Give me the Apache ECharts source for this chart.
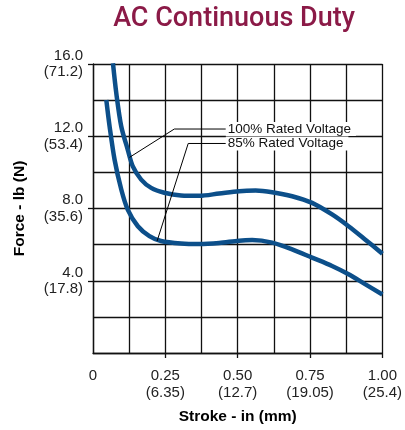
<!DOCTYPE html>
<html>
<head>
<meta charset="utf-8">
<script src="https://cdn.jsdelivr.net/npm/echarts@6/dist/echarts.min.js"></script>
<style>html,body{margin:0;padding:0;background:#fff}#c{width:405px;height:430px}</style>
</head>
<body>
<div id="c"></div>
<script>
// Stroke (in) vs Force (lb)
const rated100 = [[0.069,16.04],[0.0805,14.38],[0.0977,12.54],[0.120,11.26],[0.1376,10.33],[0.1665,9.60],[0.201,9.14],[0.2466,8.87],[0.304,8.72],[0.367,8.70],[0.436,8.83],[0.505,8.96],[0.562,8.99],[0.619,8.90],[0.688,8.68],[0.757,8.31],[0.826,7.67],[0.883,7.02],[0.940,6.29],[1.0,5.5]];
const rated85 = [[0.046,14.01],[0.0574,12.54],[0.0746,10.70],[0.0977,9.05],[0.120,7.94],[0.155,7.02],[0.195,6.47],[0.235,6.20],[0.304,6.06],[0.367,6.03],[0.436,6.09],[0.505,6.22],[0.55,6.25],[0.619,6.11],[0.688,5.74],[0.757,5.28],[0.826,4.82],[0.883,4.36],[0.940,3.81],[1.0,3.24]];
const xTickValues = [0, 0.25, 0.5, 0.75, 1.0];
const xTickLabels = ['0', '0.25\n(6.35)', '0.50\n(12.7)', '0.75\n(19.05)', '1.00\n(25.4)'];
const yTickValues = [4, 8, 12, 16];
const yTickLabels = ['4.0\n(17.8)', '8.0\n(35.6)', '12.0\n(53.4)', '16.0\n(71.2)'];
const leader100 = [[0.126,10.83],[0.281,12.40],[0.459,12.40]];
const leader85 = [[0.2215,6.20],[0.329,11.6],[0.459,11.6]];
const labelNames = ['100% Rated Voltage', '85% Rated Voltage'];

const chart = echarts.init(document.getElementById('c'), null, {renderer: 'canvas'});
const lineColor = '#0c4f8a';
const gridColor = '#111';
const font = 'Liberation Sans, Arial, sans-serif';

function leaderSeries(data, text) {
  return {
    type: 'line', data: data, symbol: 'none', silent: true, z: 5,
    lineStyle: {color: '#000', width: 1},
    endLabel: {
      show: true, formatter: text, distance: 0,
      fontFamily: font, fontSize: 13.5, color: '#111',
      backgroundColor: '#fff', padding: [1, 5, 0, 2], lineHeight: 13
    }
  };
}
function lookup(vals, labels) {
  return v => { const i = vals.findIndex(t => Math.abs(t - v) < 1e-6); return i >= 0 ? labels[i] : ''; };
}
const lineSt = {color: gridColor, width: 1.3};

chart.setOption({
  animation: false,
  graphic: [{
    type: 'text', x: 234, y: 6,
    style: {text: 'AC Continuous Duty', fontFamily: 'Roboto', fontWeight: 500, fontSize: 27,
      fill: '#8b1a47', textAlign: 'center', textVerticalAlign: 'top'}
  }],
  grid: {left: 93, right: 21, top: 64, bottom: 76},
  xAxis: [{
    type: 'value', min: 0, max: 1, interval: 0.125,
    name: 'Stroke - in (mm)', nameLocation: 'middle', nameGap: 56,
    nameTextStyle: {fontFamily: font, fontWeight: 'bold', fontSize: 15.5, color: '#000'},
    axisLine: {show: true, lineStyle: lineSt},
    axisTick: {show: true, length: 5, customValues: xTickValues.slice(1), lineStyle: lineSt},
    axisLabel: {
      customValues: xTickValues, margin: 14,
      fontFamily: font, fontSize: 15, color: '#222', lineHeight: 17, verticalAlign: 'top',
      formatter: lookup(xTickValues, xTickLabels)
    },
    splitLine: {show: false}
  }, {
    type: 'value', min: 0, max: 1, interval: 0.125, position: 'bottom',
    axisLine: {show: false}, axisTick: {show: false}, axisLabel: {show: false},
    splitLine: {show: true, lineStyle: lineSt}
  }],
  yAxis: [{
    type: 'value', min: 0, max: 16, interval: 2,
    name: 'Force - lb (N)', nameLocation: 'middle', nameGap: 65,
    nameTextStyle: {fontFamily: font, fontWeight: 'bold', fontSize: 15.5, color: '#000'},
    axisLine: {show: true, lineStyle: lineSt},
    axisTick: {show: true, length: 5, customValues: yTickValues, lineStyle: lineSt},
    axisLabel: {
      customValues: yTickValues, margin: 10,
      fontFamily: font, fontSize: 15, color: '#222', lineHeight: 16.5, align: 'right',
      formatter: lookup(yTickValues, yTickLabels)
    },
    splitLine: {show: false}
  }, {
    type: 'value', min: 0, max: 16, interval: 2, position: 'left',
    axisLine: {show: false}, axisTick: {show: false}, axisLabel: {show: false},
    splitLine: {show: true, lineStyle: lineSt}
  }],
  series: [
    {type: 'line', name: labelNames[0], data: rated100, smooth: 0.3, symbol: 'none', z: 3,
      lineStyle: {color: lineColor, width: 4.5}},
    {type: 'line', name: labelNames[1], data: rated85, smooth: 0.3, symbol: 'none', z: 3,
      lineStyle: {color: lineColor, width: 4.5}},
    leaderSeries(leader100, labelNames[0]),
    leaderSeries(leader85, labelNames[1])
  ]
});
</script>
</body>
</html>
